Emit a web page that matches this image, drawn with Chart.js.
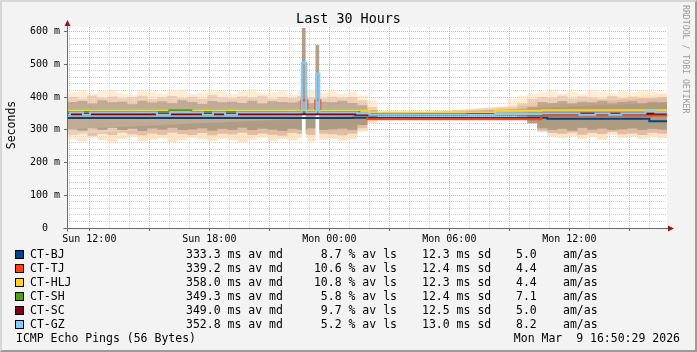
<!DOCTYPE html>
<html>
<head>
<meta charset="utf-8">
<script src="https://cdn.jsdelivr.net/npm/chart.js@4.4.1/dist/chart.umd.min.js"></script>
<style>
html, body { margin: 0; padding: 0; }
body { width: 697px; height: 352px; overflow: hidden; background: #f3f3f3; }
#wrap { position: relative; width: 697px; height: 352px; background: #f3f3f3; font-family: 'DejaVu Sans Mono', monospace; color: #000; }
#wrap canvas { position: absolute; left: 0; top: 0; }
#frame { position: absolute; left: 0; top: 0; width: 697px; height: 352px; box-sizing: border-box;
  border-top: 2px solid #d6d6d6; border-left: 2px solid #d6d6d6; border-right: 2px solid #9c9c9c; border-bottom: 2px solid #9c9c9c; pointer-events: none; }
.t { position: absolute; white-space: pre; font-size: 11.5px; line-height: 14px; }
.box { position: absolute; width: 7px; height: 7px; border: 1px solid #000; }
#title { position: absolute; left: 0; width: 697px; top: 11px; text-align: center; font-size: 13.4px; line-height: 16px; }
#ytitle { position: absolute; left: -29px; top: 118px; width: 80px; text-align: center; font-size: 11.5px; line-height: 14px; transform: rotate(-90deg); }
#mark { position: absolute; left: 681px; top: 5px; writing-mode: vertical-rl; font-size: 8.2px; color: #9a9a9a; white-space: pre; }
</style>
</head>
<body>
<div id="wrap">
  <canvas id="chart" width="697" height="352"></canvas>
  <div id="title">Last 30 Hours</div>
  <div id="ytitle">Seconds</div>
  <div id="mark">RRDTOOL / TOBI OETIKER</div>
  <div id="legend"></div>
  <div id="frame"></div>
</div>
<script>
// time axis in hours since Sun 00:00
var startHour = 10.883, endHour = 40.883;
var xLabelHours = [12, 18, 24, 30, 36];
var xLabelText = ['Sun 12:00', 'Sun 18:00', 'Mon 00:00', 'Mon 06:00', 'Mon 12:00'];
var yLabelValues = [0, 100, 200, 300, 400, 500, 600];
var yLabelText = ['0  ', '100 m', '200 m', '300 m', '400 m', '500 m', '600 m'];

// legend / stats
var hosts = ['CT-BJ', 'CT-TJ', 'CT-HLJ', 'CT-SH', 'CT-SC', 'CT-GZ'];
var hostColors = ['#004586', '#ff420e', '#ffd320', '#579d1c', '#7e0021', '#83caff'];
var avMedian = ['333.3', '339.2', '358.0', '349.3', '349.0', '352.8'];
var avLoss = ['8.7', '10.6', '10.8', '5.8', '9.7', '5.2'];
var avSd = ['12.3', '12.4', '12.3', '12.4', '12.5', '13.0'];
var amas = ['5.0', '4.4', '4.4', '7.1', '5.0', '8.2'];

// smoke envelope (ms), one value every half hour from 10.9h
var smokeStep = 0.5, smokeStart = 10.9;
var outerHi = [415,420,410,418,422,412,408,420,416,411,419,423,409,414,421,417,410,418,424,412,415,420,408,417,422,413,419,410,416,405,390,
  348,348,348,348,348,348,348,348,348,348,348,348,370,395,405,410,
  415,420,412,418,410,422,416,411,419,414,420,417,412,410];
var outerLo = [270,265,275,268,262,272,278,266,270,274,263,269,276,271,265,273,268,262,270,277,266,272,268,275,264,270,273,267,271,295,320,
  348,348,348,348,348,348,348,348,348,348,348,348,356,350,345,320,
  300,280,275,282,272,278,270,285,276,280,273,279,275,280];
var midHi = [400,395,405,398,402,396,400,404,394,399,403,397,401,395,406,399,396,402,398,404,395,400,397,403,399,396,401,398,400,390,370,
  348,348,348,348,348,348,348,348,348,348,348,348,348,348,380,395,
  400,398,404,396,402,399,395,403,397,401,398,396,400,400];
var midLo = [285,290,282,288,284,291,286,283,289,285,292,287,284,290,283,288,286,291,284,289,285,282,290,287,284,288,286,283,289,305,330,
  348,348,348,348,348,348,348,348,348,348,348,348,348,348,340,330,
  295,290,288,292,285,290,287,293,286,289,284,291,288,290];
var coreHi = [385,388,380,390,384,386,378,389,383,387,381,390,385,379,388,384,386,382,389,380,387,385,383,388,381,386,384,389,382,375,360,
  348,348,348,348,348,348,348,348,348,348,348,348,348,348,348,370,
  385,382,388,380,386,383,389,381,385,387,380,386,384,384];
var coreLo = [302,298,305,300,306,299,303,297,304,301,306,299,302,305,298,303,300,307,299,304,301,297,303,300,305,299,302,304,300,315,335,
  348,348,348,348,348,348,348,348,348,348,348,348,348,348,348,320,
  305,300,303,298,306,301,304,299,302,305,300,303,301,301];

// the two short spikes just before Mon 00:00
var spikeHours = [22.72, 23.40];
var spikeTop = [610, 558];
var spikeBase = [395, 395];
var gapTop = [342, 342];
var gapBottom = [262, 262];

// median lines (step changes: hour -> ms)
var bjHours = [10.883, 25.2, 34.9, 40.0, 40.883];
var bjMs = [336, 337, 334, 326, 326];
var tjHours = [10.883, 22.6, 22.9, 23.3, 23.55, 25.9, 34.6, 40.883];
var tjMs = [347, 390, 347, 390, 347, 332, 344, 344];
var hljHours = [10.883, 26.0, 32.3, 34.6, 40.883];
var hljMs = [358, 353, 358, 360, 360];
var shHours = [10.883, 16.0, 17.1, 25.5, 34.6, 36.7, 37.6, 40.883];
var shMs = [354, 360, 354, 347, 349, 350, 349, 349];
var scHours = [10.883, 25.3, 30.9, 34.6, 40.883];
var scMs = [348, 346, 347.5, 349, 349];
var gzHours = [10.883, 11.03, 11.68, 12.03, 15.38, 16.03, 17.68, 18.18, 18.78, 19.38, 22.62, 22.85, 23.35, 23.5, 25.4, 26.0, 32.3, 34.6, 36.5, 37.3, 38.0, 38.6, 39.8, 40.3, 40.883];
var gzMs = [346, 353, 346, 353, 346, 353, 346, 353, 346, 353, 505, 353, 472, 353, 350, 346, 348, 350, 346, 350, 346, 350, 357, 353, 353];

function pts(hours, vals) {
  return hours.map(function (h, i) { return { x: h, y: vals[i] }; });
}
function smoke(vals) {
  var out = vals.map(function (v, i) { return { x: smokeStart + i * smokeStep, y: v }; });
  out.push({ x: endHour, y: vals[vals.length - 1] });
  return out;
}

var clear = 'rgba(0,0,0,0)';
function band(data, order, fill, color) {
  return { type: 'line', data: data, order: order, stepped: true, fill: fill, backgroundColor: color,
    borderColor: clear, borderWidth: 0, pointRadius: 0 };
}
function median(i, hours, vals, order) {
  return { type: 'line', label: hosts[i], data: pts(hours, vals), order: order, stepped: true, fill: false,
    borderColor: hostColors[i], borderWidth: 2, pointRadius: 0 };
}

var datasets = [
  band(smoke(outerLo), 15, false, clear),
  band(smoke(outerHi), 14, '-1', 'rgba(252,222,178,0.55)'),
  band(smoke(midLo), 13, false, clear),
  band(smoke(midHi), 12, '-1', 'rgba(218,170,155,0.45)'),
  band(smoke(coreLo), 11, false, clear),
  band(smoke(coreHi), 10, '-1', 'rgba(165,150,125,0.62)'),
  { type: 'bar', order: 9, grouped: false, barThickness: 3, backgroundColor: '#ffffff', borderWidth: 0,
    data: spikeHours.map(function (h, i) { return { x: h, y: [gapBottom[i], gapTop[i]] }; }) },
  { type: 'bar', order: 8, grouped: false, barThickness: 3, backgroundColor: 'rgba(168,150,122,0.9)', borderWidth: 0,
    data: spikeHours.map(function (h, i) { return { x: h, y: [spikeBase[i], spikeTop[i]] }; }) },
  median(0, bjHours, bjMs, 6),
  median(1, tjHours, tjMs, 5),
  median(2, hljHours, hljMs, 4),
  median(3, shHours, shMs, 3),
  median(4, scHours, scMs, 2),
  median(5, gzHours, gzMs, 1)
];

var minorGrid = 'rgba(150,150,150,0.45)';
var majorGrid = 'rgba(230,110,110,0.6)';

// white plot background, like rrdtool's canvas
var plotBg = {
  id: 'plotBg',
  beforeDraw: function (chart) {
    var c = chart.ctx, a = chart.chartArea;
    c.save();
    c.fillStyle = '#ffffff';
    c.fillRect(a.left, a.top, a.right - a.left, a.bottom - a.top);
    c.restore();
  }
};

var axisArrows = {
  id: 'axisArrows',
  afterDatasetsDraw: function (chart) {
    var c = chart.ctx, a = chart.chartArea;
    var x0 = Math.round(a.left) + 0.5, y0 = Math.round(a.bottom) + 0.5;
    c.save();
    c.strokeStyle = '#6a6a6a';
    c.lineWidth = 1;
    c.beginPath();
    c.moveTo(x0, y0 + 3); c.lineTo(x0, a.top - 4);
    c.moveTo(x0 - 4, y0); c.lineTo(a.right + 3, y0);
    c.stroke();
    c.fillStyle = '#8c1c1c';
    c.beginPath();
    c.moveTo(x0, a.top - 7); c.lineTo(x0 - 3, a.top - 1); c.lineTo(x0 + 3, a.top - 1); c.closePath();
    c.fill();
    c.beginPath();
    c.moveTo(a.right + 7, y0); c.lineTo(a.right + 1, y0 - 3); c.lineTo(a.right + 1, y0 + 3); c.closePath();
    c.fill();
    c.restore();
  }
};

new Chart(document.getElementById('chart'), {
  type: 'line',
  data: { datasets: datasets },
  options: {
    responsive: false,
    animation: false,
    devicePixelRatio: 1,
    layout: { padding: { left: 0, top: 27, right: 30, bottom: 104 } },
    plugins: { legend: { display: false }, tooltip: { enabled: false }, title: { display: false } },
    elements: { point: { radius: 0 } },
    scales: {
      x: {
        type: 'linear', min: startHour, max: endHour, offset: false,
        afterBuildTicks: function (s) {
          var t = [];
          for (var h = Math.ceil(startHour); h <= endHour; h++) t.push({ value: h });
          s.ticks = t;
        },
        afterFit: function (s) { s.height = 20; },
        border: { display: false, dash: [1, 1] },
        grid: {
          offset: false,
          color: function (c) { return c.tick && c.tick.value % 3 === 0 ? majorGrid : minorGrid; },
          tickColor: function (c) { return c.tick && c.tick.value % 3 === 0 ? '#6a6a6a' : clear; },
          tickLength: 3, tickBorderDash: []
        },
        ticks: {
          autoSkip: false, maxRotation: 0, padding: 2, color: '#000',
          font: { family: 'DejaVu Sans Mono', size: 10 },
          callback: function (v) { var k = xLabelHours.indexOf(v); return k < 0 ? '' : xLabelText[k]; }
        }
      },
      y: {
        type: 'linear', min: 0, max: 614,
        afterBuildTicks: function (s) {
          var t = [];
          for (var v = 0; v <= 600; v += 20) t.push({ value: v });
          s.ticks = t;
        },
        afterFit: function (s) { s.width = 67; },
        border: { display: false, dash: [1, 1] },
        grid: {
          color: function (c) { return c.tick && c.tick.value % 100 === 0 ? majorGrid : minorGrid; },
          tickColor: function (c) { return c.tick && c.tick.value % 100 === 0 ? '#6a6a6a' : clear; },
          tickLength: 3, tickBorderDash: []
        },
        ticks: {
          autoSkip: false, padding: 4, color: '#000',
          font: { family: 'DejaVu Sans Mono', size: 10 },
          callback: function (v) { var k = yLabelValues.indexOf(v); return k < 0 ? '' : yLabelText[k]; }
        }
      }
    }
  },
  plugins: [plotBg, axisArrows]
});

// legend rows as real text
var lg = document.getElementById('legend');
function put(txt, x, y, right) {
  var d = document.createElement('div');
  d.className = 't';
  d.textContent = txt;
  d.style.top = y + 'px';
  if (right) { d.style.right = (697 - x) + 'px'; } else { d.style.left = x + 'px'; }
  lg.appendChild(d);
}
hosts.forEach(function (h, i) {
  var y = 247 + i * 14;
  var b = document.createElement('div');
  b.className = 'box';
  b.style.left = '15px';
  b.style.top = (y + 3) + 'px';
  b.style.background = hostColors[i];
  lg.appendChild(b);
  put(h, 30, y);
  put(avMedian[i] + ' ms av md', 186, y);
  put(avLoss[i] + ' % av ls', 397, y, true);
  put(avSd[i] + ' ms sd', 422, y);
  put(amas[i], 516, y);
  put('am/as', 563, y);
});
put('ICMP Echo Pings (56 Bytes)', 16, 331);
put('Mon Mar  9 16:50:29 2026', 680, 331, true);
</script>
</body>
</html>
